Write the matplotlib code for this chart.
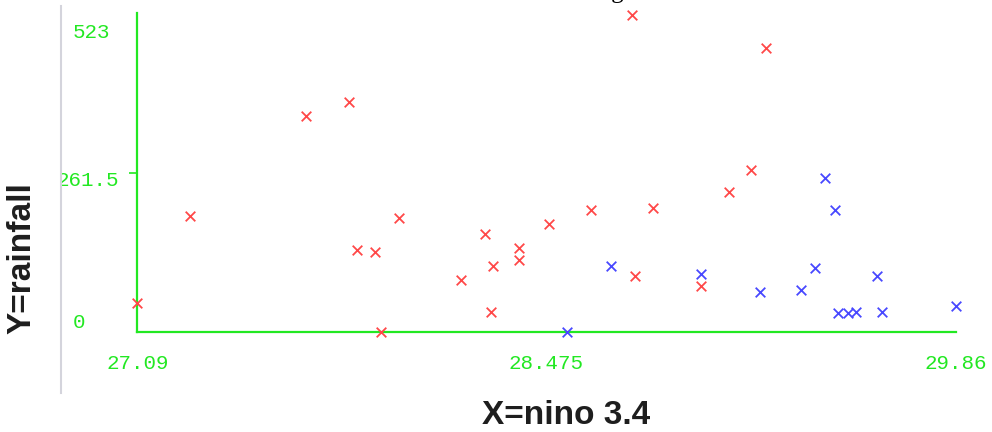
import matplotlib
matplotlib.use("Agg")
import matplotlib.pyplot as plt
from matplotlib.patches import Rectangle
from matplotlib.lines import Line2D

# nino 3.4 vs rainfall, two groups
red_x = [27.09, 27.27, 27.66, 27.807, 27.834, 27.895, 27.915, 27.976, 28.186,
         28.267, 28.287, 28.294, 28.382, 28.382, 28.484, 28.626, 28.765,
         28.775, 28.836, 28.999, 29.093, 29.168, 29.218]
red_y = [47, 190, 355, 378, 135, 131, 0, 187, 85, 161, 33, 108, 138, 118,
         177, 200, 520, 92, 204, 75, 230, 266, 466]

blue_x = [28.546, 28.695, 28.999, 29.196, 29.338, 29.385, 29.419, 29.453,
          29.463, 29.494, 29.524, 29.595, 29.609, 29.86]
blue_y = [0, 108, 95, 66, 69, 105, 253, 200, 31, 31, 32, 92, 33, 43]

x_ticks = [27.09, 28.475, 29.86]
x_labels = ['27.09', '28.475', '29.86']
y_ticks = [0, 261.5, 523]
y_labels = ['0', '261.5', '523']

green = '#22e822'
mono = 'Liberation Mono'

fig = plt.figure(figsize=(9.92, 4.32), dpi=100)
ax = fig.add_axes([0.1384, 0.2315, 0.8250, 0.7375])

ax.scatter(red_x, red_y, marker='x', s=48, color='#ff4848', linewidths=1.3,
           clip_on=False, zorder=3)
ax.scatter(blue_x, blue_y, marker='x', s=48, color='#4848ff', linewidths=1.3,
           clip_on=False, zorder=3)

ax.set_xlim(27.09, 29.86)
ax.set_ylim(0, 523)

for s in ['top', 'right']:
    ax.spines[s].set_visible(False)
for s in ['left', 'bottom']:
    ax.spines[s].set_color(green)
    ax.spines[s].set_linewidth(1.6)

ax.set_xticks(x_ticks)
ax.set_xticklabels(x_labels, family=mono, fontsize=15, color=green)
ax.tick_params(axis='x', length=0, pad=16)
ax.set_xticks([x_ticks[1]], minor=True)
ax.tick_params(axis='x', which='minor', length=6, width=1.2, color=green)

ax.set_yticks([])
ax.set_yticks([y_ticks[1]], minor=True)
ax.tick_params(axis='y', which='minor', length=6, width=1.2, color=green,
               labelleft=False)

# y labels sit a bit off their values in the original
y_offsets = [(-65, 9), (-81, -8), (-65, -19)]
for val, lbl, (dx, dy) in zip(y_ticks, y_labels, y_offsets):
    ax.annotate(lbl, xy=(0, val), xycoords=('axes fraction', 'data'),
                xytext=(dx, dy), textcoords='offset pixels', ha='left',
                va='center', family=mono, fontsize=15, color=green,
                annotation_clip=False)

# white strip + grey frame line on the left
fig.patches.append(Rectangle((0, 0), 60 / 992, 1, transform=fig.transFigure,
                             facecolor='white', edgecolor='none', zorder=1))
fig.lines.append(Line2D([60.5 / 992, 60.5 / 992], [1 - 393 / 432, 1 - 6 / 432],
                        transform=fig.transFigure, color='#d4d4dc', lw=1.5,
                        zorder=1.5))

fig.text(22 / 992, 1 - 258 / 432, 'Y=rainfall', rotation=90, ha='center',
         va='center', fontsize=24, fontweight='bold', family='Liberation Sans',
         color='#1e1e1e', zorder=2)
fig.text(566 / 992, 1 - 415 / 432, 'X=nino 3.4', ha='center', va='center',
         fontsize=24, fontweight='bold', family='Liberation Sans',
         color='#1e1e1e')
# title mostly cut off at the top edge, as in the original
fig.text(505 / 992, 1 + 2 / 432, 'Scatter diagram', ha='left', va='baseline',
         fontsize=18, family='Liberation Serif', color='black')

fig.savefig('out.png', dpi=100)
